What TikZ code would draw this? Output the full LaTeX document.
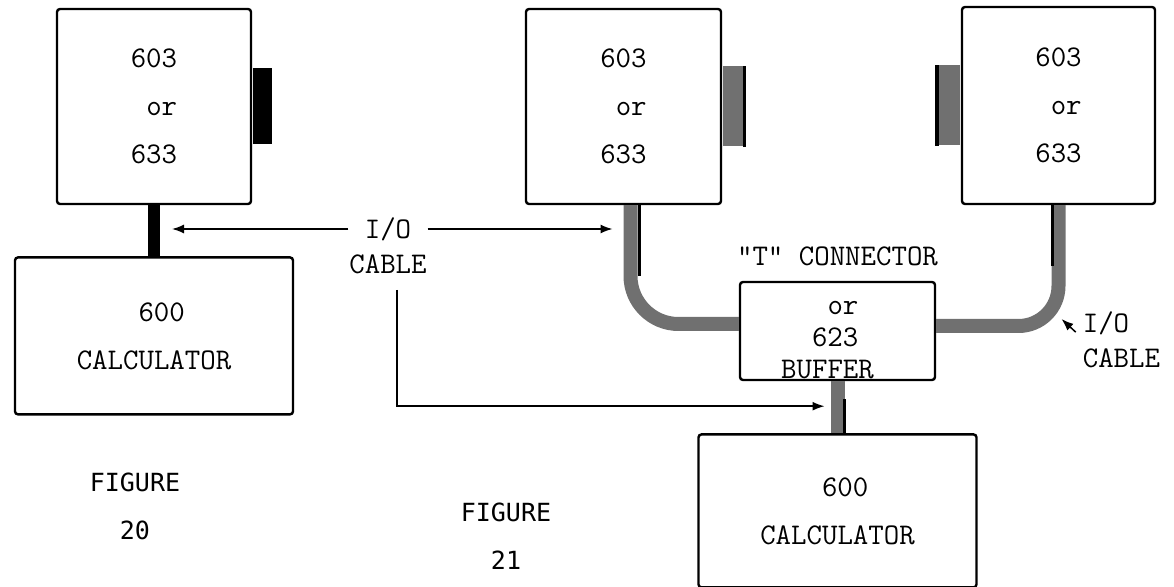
\documentclass[tikz,border=0pt]{standalone}
\usepackage{fontspec}
\newfontfamily\figfont{DejaVu Sans Mono}
\usetikzlibrary{arrows.meta, positioning, calc}
\definecolor{cablegray}{RGB}{112,112,112}

\begin{document}
\begin{tikzpicture}[x=0.5pt, y=-0.5pt,
	unitbox/.style={rectangle, draw, line width=1.2pt, rounded corners=1.5pt, align=left, font=\ttfamily\fontsize{15}{24}\selectfont},
	plugbox/.style={rectangle, draw=none, inner sep=0pt},
	cable/.style={line width=7pt, cablegray},
	edgeline/.style={line width=1.2pt, black},
	lbl/.style={font=\ttfamily\fontsize{15}{18}\selectfont},
	figlbl/.style={align=center, font=\figfont\fontsize{12.5}{24}\selectfont},
	arrow/.style={-{Latex[length=6pt, width=4.5pt]}, line width=0.75pt}
]
	\useasboundingbox (0,0) rectangle (1174,587);

	% figure 20
	\node[unitbox, minimum width=97pt, minimum height=97.5pt] (dev20) at (154,106.5) {603\\\hphantom{0}or\\633};
	\node[plugbox, fill=black, minimum width=9.5pt, minimum height=38pt, right=0pt of dev20] (plug20) {};
	\node[unitbox, minimum width=139pt, minimum height=78.5pt, below=25.5pt of dev20] (calc20) {\hphantom{0000}600\\CALCULATOR};
	\node[figlbl] (fig20) at (135,506) {FIGURE\\20};

	% figure 21
	\node[unitbox, minimum width=97.5pt, minimum height=97.5pt] (dev21a) at (623.5,106.5) {603\\\hphantom{0}or\\633};
	\node[plugbox, fill=cablegray, minimum width=10.5pt, minimum height=40pt, right=0pt of dev21a] (pluga) {};
	\node[unitbox, minimum width=96.5pt, minimum height=98.5pt] (dev21b) at (1058.5,105.5) {603\\\hphantom{0}or\\633};
	\node[plugbox, fill=cablegray, minimum width=11.5pt, minimum height=40pt, left=0pt of dev21b] (plugb) {};
	\node[unitbox, minimum width=97.5pt, minimum height=49pt] (tee) at (837.5,331) {};
	\node[lbl, align=left, font=\ttfamily\fontsize{15}{16}\selectfont] (teetxt) at ([shift={(-5pt,-4.5pt)}]tee.center) {\hphantom{000}or\\\hphantom{00}623\\BUFFER};
	\node[lbl, above=4pt of tee] (teelbl) {"T" CONNECTOR};
	\node[unitbox, minimum width=139pt, minimum height=76.5pt, below=26pt of tee] (calc21) {\hphantom{0000}600\\CALCULATOR};
	\node[figlbl] (fig21) at (506,536) {FIGURE\\21};

	% cable labels
	\node[lbl, inner xsep=8pt] (io) at (388,229) {I/O};
	\node[lbl, below=0pt of io] (cab) {CABLE};
	\node[lbl] (rio) at (1106,323) {I/O};
	\node[lbl, anchor=north west] (rcab) at (rio.south west) {CABLE};

	% cables
	\draw[line width=6pt] (dev20.south) -- (calc20.north);
	\draw[cable, rounded corners=24pt] ([xshift=3.5pt]dev21a.south) |- ([yshift=3.5pt]tee.west);
	\draw[cable, rounded corners=20pt] (dev21b.south) |- ([yshift=2.5pt]tee.east);
	\draw[cable] (tee.south) -- (calc21.north);
	\draw[edgeline] ([xshift=8pt]dev21a.south) -- ++(0,71);
	\draw[edgeline] ([xshift=-3pt]dev21b.south) -- ++(0,61);
	\draw[edgeline] ([xshift=3.5pt]calc21.north) -- ++(0,-34);
	\draw[edgeline, line width=1.5pt] (pluga.north east) -- (pluga.south east);
	\draw[edgeline, line width=2pt] (plugb.north west) -- (plugb.south west);

	% arrows
	\draw[arrow] (io.west) -- ([xshift=9pt]io.west -| dev20.south);
	\draw[arrow] (io.east) -- ([xshift=-5.5pt]io.east -| dev21a.south);
	\draw[arrow] ([xshift=4.5pt,yshift=-4.5pt]cab.south) |- ([xshift=-6.5pt,yshift=-12.5pt]tee.south);
	\draw[arrow] (rio.base west) -- ([shift={(1.5pt,6pt)}]dev21b.south |- tee.east);
\end{tikzpicture}
\end{document}
